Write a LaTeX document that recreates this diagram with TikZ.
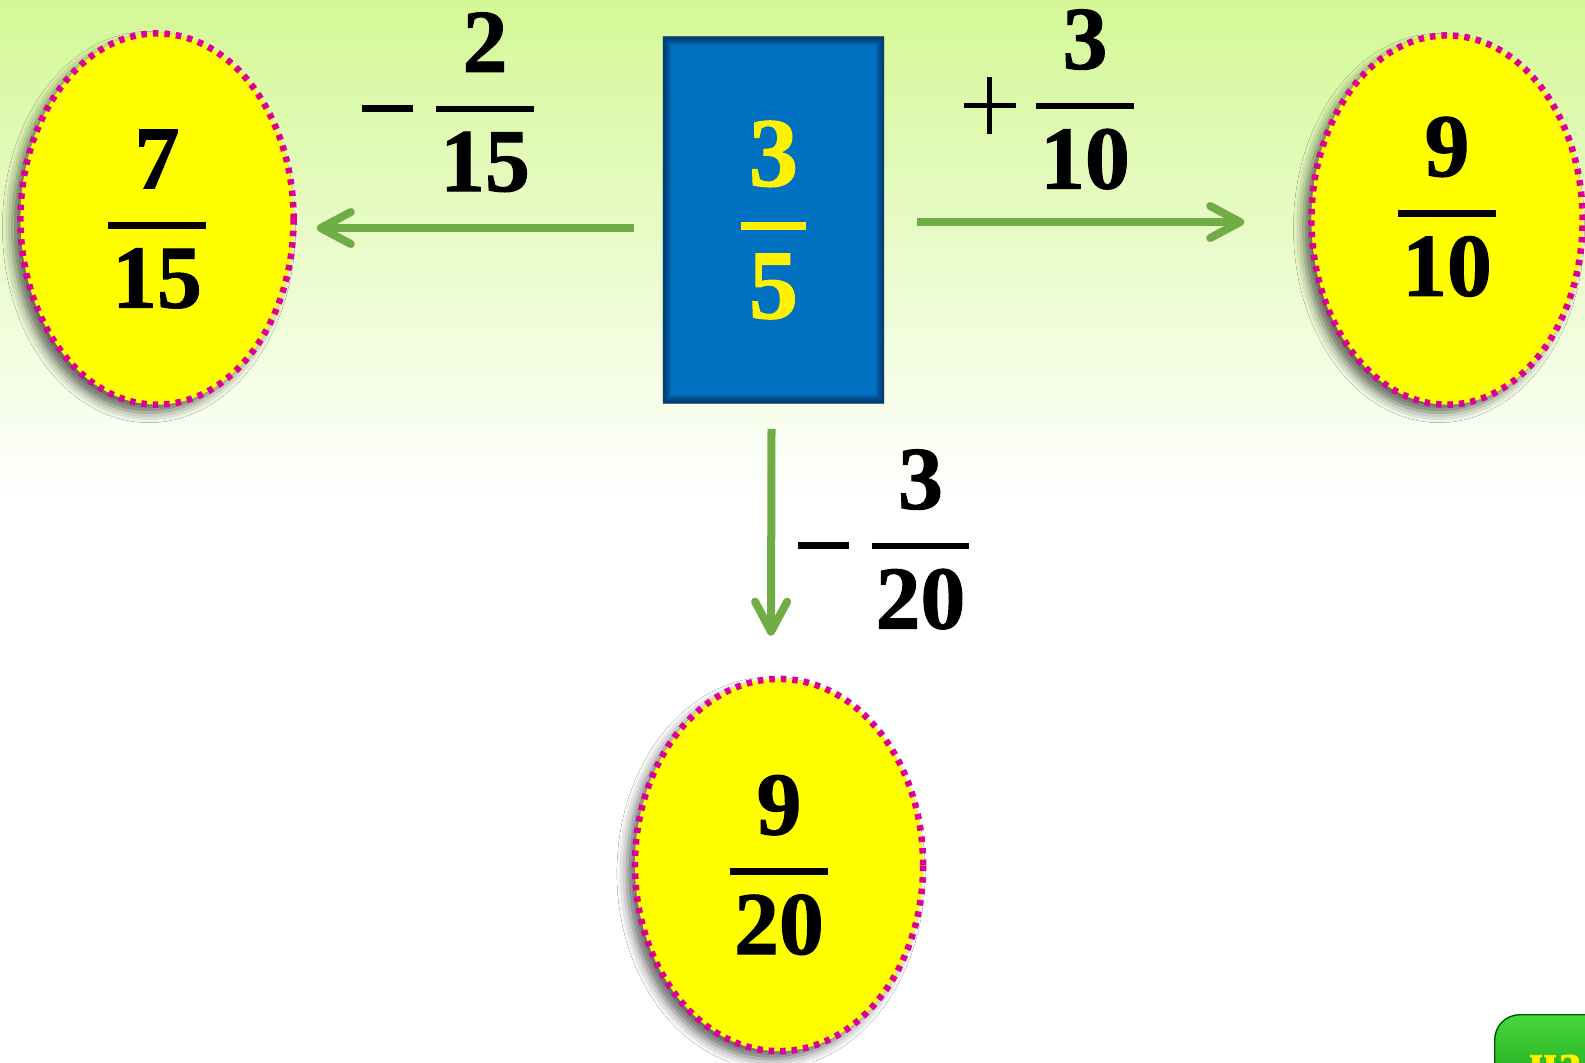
\documentclass[tikz,border=0pt]{standalone}
\usepackage{amsmath}
\usepackage{fontspec}
\setmainfont{Liberation Serif}[BoldFeatures={FakeBold=1.2}]
\usetikzlibrary{shapes.geometric,arrows.meta,shadows.blur}
\definecolor{bgtop}{RGB}{212,248,150}
\definecolor{bgmid}{RGB}{238,252,214}
\definecolor{ovalfill}{RGB}{255,255,0}
\definecolor{ovaldots}{RGB}{222,0,150}
\definecolor{boxblue}{RGB}{0,112,192}
\definecolor{boxdark}{RGB}{0,40,80}
\definecolor{arrgreen}{RGB}{112,173,71}
\definecolor{btntop}{RGB}{70,215,60}
\definecolor{btnbot}{RGB}{20,150,20}
\newcommand{\fr}[2]{\genfrac{}{}{0.065cm}{0}{\text{\kern0.04cm#1\kern0.04cm}}{\text{\kern0.04cm#2\kern0.04cm}}}
\newcommand{\minussign}{\rule[\dimexpr6.4pt-0.0325cm\relax]{0.51cm}{0.065cm}}
\newcommand{\plussign}{\rlap{\rule[\dimexpr6.4pt-0.025cm\relax]{0.52cm}{0.05cm}}\hspace{0.235cm}\rule[\dimexpr6.4pt-0.28cm\relax]{0.05cm}{0.56cm}\hspace{0.235cm}}

\begin{document}
\begin{tikzpicture}[x=0.01cm,y=-0.01cm,
    every node/.style={font=\fontsize{25.5}{30}\selectfont\bfseries},
    oval/.style={ellipse, fill=ovalfill, draw=ovaldots, line width=0.065cm,
      dash pattern=on 0.055cm off 0.06cm,
      blur shadow={shadow xshift=-0.08cm, shadow yshift=-0.08cm, shadow opacity=60, shadow blur radius=0.1cm}},
    numbox/.style={rectangle, fill=boxblue, text=yellow, inner sep=0pt,
      minimum width=2.21cm, minimum height=3.66cm, font=\fontsize{28}{32}\selectfont\bfseries,
      path picture={\foreach \k in {1,...,8}
        \draw[boxdark, opacity=0.13, line width=\k*0.6pt] (path picture bounding box.south west) rectangle (path picture bounding box.north east);}},
    arr/.style={draw=arrgreen, line width=0.08cm, -{Straight Barb[length=0.3cm, width=0.32cm, line cap=round, line join=round]}},
    btn/.style={rounded corners=0.25cm, top color=btntop, bottom color=btnbot, draw=green!35!black,
      text=yellow, inner xsep=0.34cm, inner ysep=0.4cm, font=\fontsize{14}{16}\selectfont\bfseries}]
  \useasboundingbox (0,0) rectangle (1585,1062);
  \clip (0,0) rectangle (1585,1062);
  \fill[white] (0,0) rectangle (1585,1062);
  \shade[top color=bgtop, middle color=bgmid, bottom color=white] (0,0) rectangle (1585,500);

  \node[oval, minimum width=2.73cm, minimum height=3.71cm] (lfrac) at (157,219) {$\fr{7}{15}$};
  \node[oval, minimum width=2.71cm, minimum height=3.69cm, text depth=25pt] (rfrac) at (1447,220) {$\fr{9}{10}$};
  \node[oval, minimum width=2.88cm, minimum height=3.72cm] (bfrac) at (779,865) {$\fr{9}{20}$};
  \node[numbox] (box) at (773.5,220) {$\genfrac{}{}{0.08cm}{0}{\text{\kern0.08cm\raisebox{0.7pt}{3}\kern0.08cm}}{\text{\kern0.08cm\raisebox{-2.6pt}{5}\kern0.08cm}}$};

  \node[anchor=base] (sub1) at (450,131) {\minussign\hspace{0.19cm}$\fr{2}{15}$};
  \node[anchor=base] (add1) at (1051,128) {\plussign\hspace{0.16cm}$\fr{3}{10}$};
  \node[anchor=base] (sub2) at (886,568) {\minussign\hspace{0.18cm}$\fr{3}{20}$};

  \draw[arr] ([shift={(-28,8)}]box.west) -- ([shift={(20,9)}]lfrac.east);
  \draw[arr] ([shift={(32,2)}]box.east) -- ([shift={(-64,2)}]rfrac.west);
  \draw[arr] ([shift={(-2,25)}]box.south) -- ([shift={(-8,-40)}]bfrac.north);

  \node[btn, anchor=north west] (next) at (1494,1014) {на};
\end{tikzpicture}
\end{document}
